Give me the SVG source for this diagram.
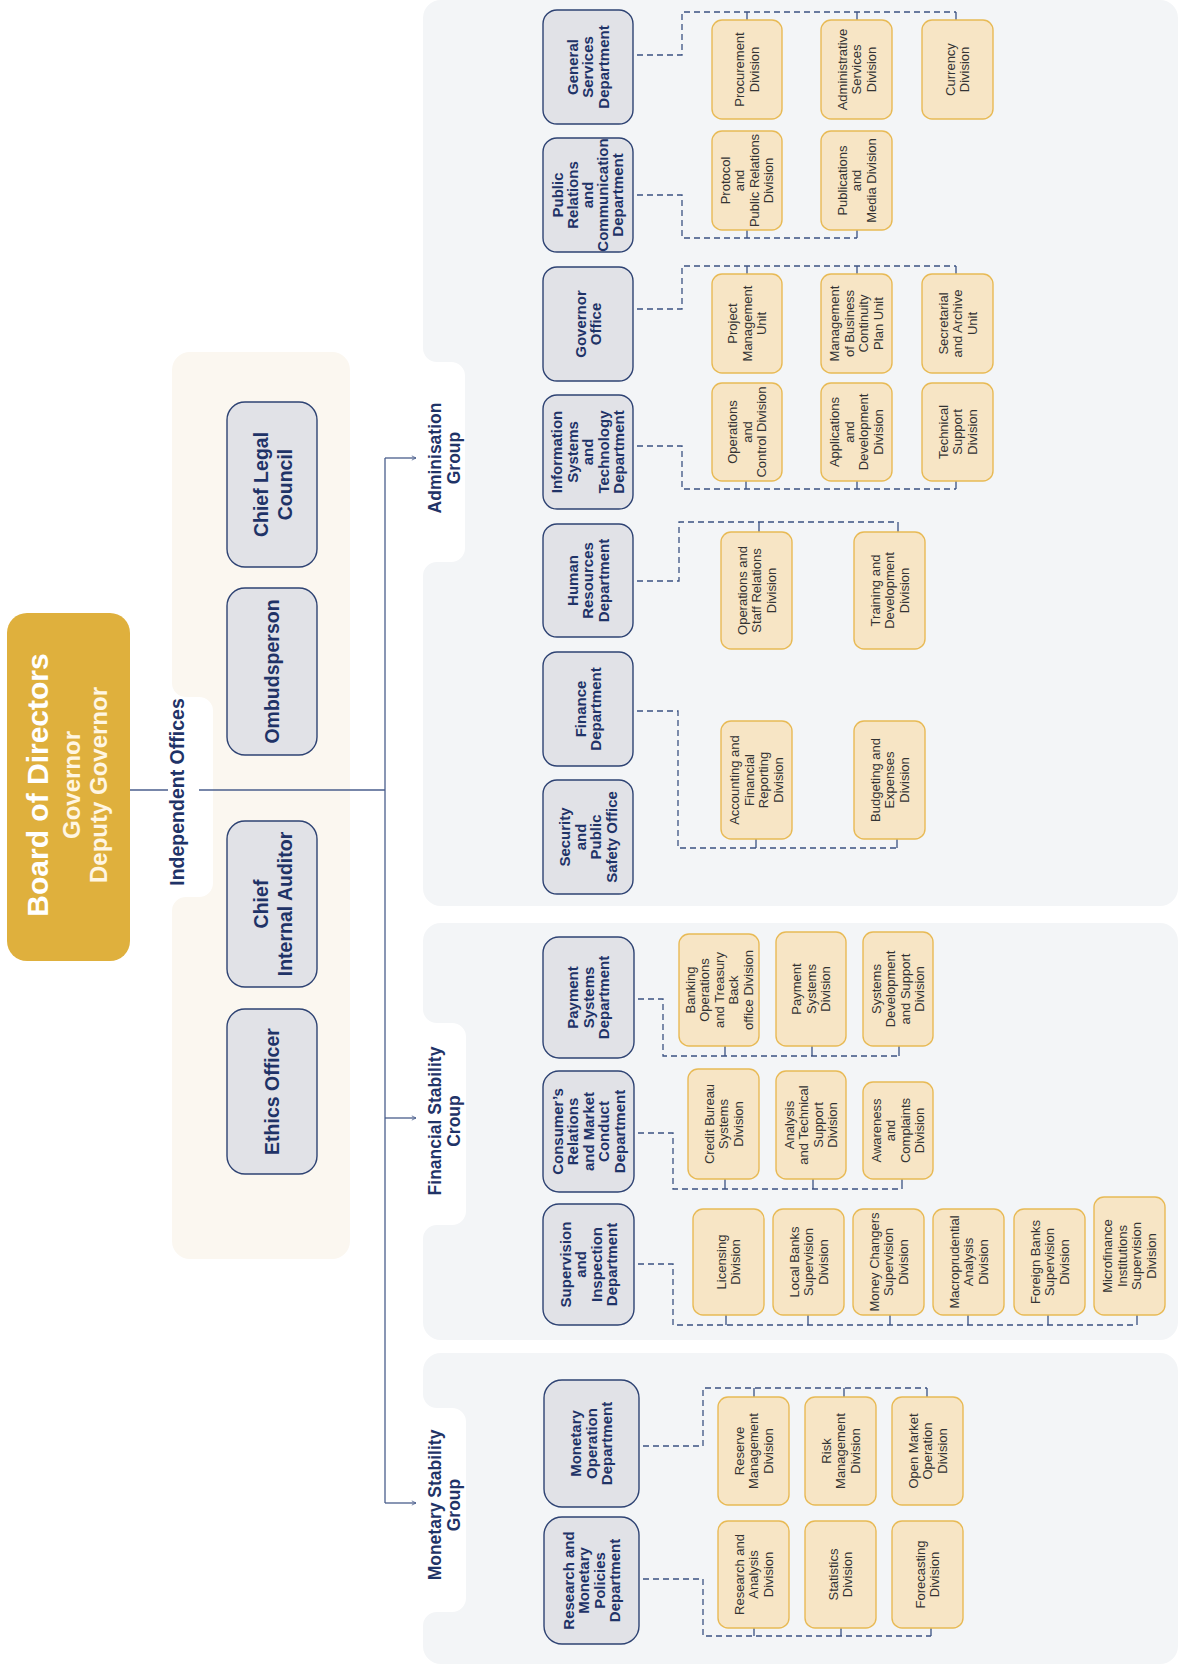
<svg xmlns="http://www.w3.org/2000/svg" width="1181" height="1669" viewBox="0 0 1181 1669">
<style>
text{font-family:"Liberation Sans",Arial,Helvetica,sans-serif}
.dn{fill:#E1E2E7;stroke:#2E4373;stroke-width:1.4}
.dt{font-weight:700;font-size:15px;fill:#1F3367;text-anchor:middle}
.vn{fill:#F7E5C5;stroke:#E8BA55;stroke-width:1.4}
.vt{font-size:13px;fill:#333333;text-anchor:middle}
.bus{fill:none;stroke:#3B5283;stroke-width:1.3;stroke-dasharray:6 4}
.tk{fill:none;stroke:#3B5283;stroke-width:1.3}
.ln{fill:none;stroke:#4A5E8C;stroke-width:1.3}
.gl{font-weight:700;font-size:17.5px;fill:#1F3367;text-anchor:middle}
.io{font-weight:700;font-size:19.5px;fill:#1F3367;text-anchor:middle}
.gp{fill:#F3F5F7}
.ip{fill:#FBF7F0}
</style>
<defs>
<marker id="ah" viewBox="0 0 10 10" refX="9" refY="5" markerWidth="6" markerHeight="6" orient="auto" markerUnits="userSpaceOnUse"><path d="M2 1.5 L9 5 L2 8.5" fill="none" stroke="#4A5E8C" stroke-width="1.3"/></marker>
</defs>
<rect width="1181" height="1669" fill="#FFFFFF"/>

<g id="panels">
<path class="ip" d="M190 352 H332 A18 18 0 0 1 350 370 V1241 A18 18 0 0 1 332 1259 H190 A18 18 0 0 1 172 1241 V911 A14 14 0 0 1 186 897 H199 A14 14 0 0 0 213 883 V711 A14 14 0 0 0 199 697 H186 A14 14 0 0 1 172 683 V370 A18 18 0 0 1 190 352 Z"/>
<path class="gp" d="M441 0 H1160 A18 18 0 0 1 1178 18 V888 A18 18 0 0 1 1160 906 H441 A18 18 0 0 1 423 888 V576 A14 14 0 0 1 437 562 H451 A14 14 0 0 0 465 548 V376 A14 14 0 0 0 451 362 H437 A14 14 0 0 1 423 348 V18 A18 18 0 0 1 441 0 Z"/>
<path class="gp" d="M441 923 H1160 A18 18 0 0 1 1178 941 V1322 A18 18 0 0 1 1160 1340 H441 A18 18 0 0 1 423 1322 V1239 A14 14 0 0 1 437 1225 H452 A14 14 0 0 0 466 1211 V1037 A14 14 0 0 0 452 1023 H437 A14 14 0 0 1 423 1009 V941 A18 18 0 0 1 441 923 Z"/>
<path class="gp" d="M441 1353 H1160 A18 18 0 0 1 1178 1371 V1646 A18 18 0 0 1 1160 1664 H441 A18 18 0 0 1 423 1646 V1626 A14 14 0 0 1 437 1612 H452 A14 14 0 0 0 466 1598 V1422 A14 14 0 0 0 452 1408 H437 A14 14 0 0 1 423 1394 V1371 A18 18 0 0 1 441 1353 Z"/>
</g>

<g id="connectors">
<path class="ln" d="M130 790 H168"/>
<path class="ln" d="M199 790 H385"/>
<path class="ln" d="M385 458 V1503"/>
<path class="ln" d="M385 458 H416" marker-end="url(#ah)"/>
<path class="ln" d="M385 1118 H416" marker-end="url(#ah)"/>
<path class="ln" d="M385 1503 H416" marker-end="url(#ah)"/>

<path class="bus" d="M637 55 H682 V12 H956"/>
<path class="tk" d="M747 12 V20 M857 12 V20 M956 12 V20"/>
<path class="bus" d="M637 195 H682 V238 H857"/>
<path class="tk" d="M747 230 V238 M857 230 V238"/>
<path class="bus" d="M637 309 H682 V266 H956"/>
<path class="tk" d="M747 266 V274 M857 266 V274 M956 266 V274"/>
<path class="bus" d="M637 446 H682 V489 H956"/>
<path class="tk" d="M746 481 V489 M857 481 V489 M956 481 V489"/>
<path class="bus" d="M637 581 H679 V522 H898"/>
<path class="tk" d="M759 522 V532 M898 522 V532"/>
<path class="bus" d="M637 711 H678 V848 H897"/>
<path class="tk" d="M756 839 V848 M897 839 V848"/>

<path class="bus" d="M638 999 H663 V1056 H899"/>
<path class="tk" d="M725 1046 V1056 M812 1046 V1056 M899 1046 V1056"/>
<path class="bus" d="M638 1133 H673 V1189 H902"/>
<path class="tk" d="M725 1179 V1189 M813 1179 V1189 M902 1179 V1189"/>
<path class="bus" d="M638 1264 H673 V1325 H1137"/>
<path class="tk" d="M726 1315 V1325 M808 1315 V1325 M890 1315 V1325 M968 1315 V1325 M1048 1315 V1325 M1137 1315 V1325"/>

<path class="bus" d="M643 1446 H703 V1388 H927"/>
<path class="tk" d="M754 1388 V1397 M844 1388 V1397 M927 1388 V1397"/>
<path class="bus" d="M643 1579 H703 V1636 H931"/>
<path class="tk" d="M754 1628 V1636 M841 1628 V1636 M931 1628 V1636"/>
</g>

<g id="board">
<rect x="7" y="613" width="123" height="348" rx="20" fill="#DFB03D"/>
<text transform="translate(48 785) rotate(-90)" text-anchor="middle" font-weight="700" font-size="30" fill="#FFFFFF">Board of Directors</text>
<text transform="translate(80 785) rotate(-90)" text-anchor="middle" font-weight="700" font-size="24" fill="#FFF6E3">Governor</text>
<text transform="translate(107 785) rotate(-90)" text-anchor="middle" font-weight="700" font-size="24" fill="#FFF6E3">Deputy Governor</text>
</g>

<g id="independent-offices-label"><text class="io" transform="translate(184 792) rotate(-90)">Independent Offices</text></g>
<g id="admin-label"><text class="gl" transform="translate(444 458) rotate(-90)"><tspan x="0" y="-3.4">Adminisation</tspan><tspan x="0" y="15.6">Group</tspan></text></g>
<g id="financial-label"><text class="gl" transform="translate(444 1121) rotate(-90)"><tspan x="0" y="-3.4">Financial Stability</tspan><tspan x="0" y="15.6">Croup</tspan></text></g>
<g id="monetary-label"><text class="gl" transform="translate(444 1505) rotate(-90)"><tspan x="0" y="-3.4">Monetary Stability</tspan><tspan x="0" y="15.6">Group</tspan></text></g>

<g id="chief-legal-council"><rect class="dn" x="227" y="402" width="90" height="165" rx="18"/><text class="io" transform="translate(272 484.5) rotate(-90)"><tspan x="0" y="-4">Chief Legal</tspan><tspan x="0" y="20">Council</tspan></text></g>
<g id="ombudsperson"><rect class="dn" x="227" y="588" width="90" height="167" rx="18"/><text class="io" transform="translate(272 671.5) rotate(-90)"><tspan x="0" y="7">Ombudsperson</tspan></text></g>
<g id="chief-internal-auditor"><rect class="dn" x="227" y="821" width="90" height="166" rx="18"/><text class="io" transform="translate(272 904) rotate(-90)"><tspan x="0" y="-4">Chief</tspan><tspan x="0" y="20">Internal Auditor</tspan></text></g>
<g id="ethics-officer"><rect class="dn" x="227" y="1009" width="90" height="165" rx="18"/><text class="io" transform="translate(272 1091.5) rotate(-90)"><tspan x="0" y="7">Ethics Officer</tspan></text></g>

<g id="general-services"><rect class="dn" x="543" y="10" width="90" height="114" rx="14"/><text class="dt" transform="translate(588 67) rotate(-90)"><tspan x="0" y="-10.25">General</tspan><tspan x="0" y="5.25">Services</tspan><tspan x="0" y="20.75">Department</tspan></text></g>
<g id="public-relations"><rect class="dn" x="543" y="138" width="90" height="114" rx="14"/><text class="dt" font-size="13.5" transform="translate(588 195) rotate(-90)"><tspan x="0" y="-25.3">Public</tspan><tspan x="0" y="-10.3">Relations</tspan><tspan x="0" y="4.7">and</tspan><tspan x="0" y="19.7">Communication</tspan><tspan x="0" y="34.7">Department</tspan></text></g>
<g id="governor-office"><rect class="dn" x="543" y="267" width="90" height="114" rx="14"/><text class="dt" transform="translate(588 324) rotate(-90)"><tspan x="0" y="-2.5">Governor</tspan><tspan x="0" y="13">Office</tspan></text></g>
<g id="information-systems"><rect class="dn" x="543" y="395" width="90" height="114" rx="14"/><text class="dt" transform="translate(588 452) rotate(-90)"><tspan x="0" y="-25.75">Information</tspan><tspan x="0" y="-10.25">Systems</tspan><tspan x="0" y="5.25">and</tspan><tspan x="0" y="20.75">Technology</tspan><tspan x="0" y="36.25">Department</tspan></text></g>
<g id="human-resources"><rect class="dn" x="543" y="524" width="90" height="113" rx="14"/><text class="dt" transform="translate(588 580.5) rotate(-90)"><tspan x="0" y="-10.25">Human</tspan><tspan x="0" y="5.25">Resources</tspan><tspan x="0" y="20.75">Department</tspan></text></g>
<g id="finance"><rect class="dn" x="543" y="652" width="90" height="114" rx="14"/><text class="dt" transform="translate(588 709) rotate(-90)"><tspan x="0" y="-2.5">Finance</tspan><tspan x="0" y="13">Department</tspan></text></g>
<g id="security"><rect class="dn" x="543" y="780" width="90" height="114" rx="14"/><text class="dt" transform="translate(588 837) rotate(-90)"><tspan x="0" y="-18">Security</tspan><tspan x="0" y="-2.5">and</tspan><tspan x="0" y="13">Public</tspan><tspan x="0" y="28.5">Safety Office</tspan></text></g>

<g id="payment-systems"><rect class="dn" x="543" y="937" width="91" height="121" rx="16"/><text class="dt" transform="translate(588.5 997.5) rotate(-90)"><tspan x="0" y="-10.25">Payment</tspan><tspan x="0" y="5.25">Systems</tspan><tspan x="0" y="20.75">Department</tspan></text></g>
<g id="consumers-relations"><rect class="dn" x="543" y="1071" width="91" height="121" rx="16"/><text class="dt" transform="translate(588.5 1131.5) rotate(-90)"><tspan x="0" y="-25.75">Consumer’s</tspan><tspan x="0" y="-10.25">Relations</tspan><tspan x="0" y="5.25">and Market</tspan><tspan x="0" y="20.75">Conduct</tspan><tspan x="0" y="36.25">Department</tspan></text></g>
<g id="supervision"><rect class="dn" x="543" y="1204" width="91" height="121" rx="16"/><text class="dt" transform="translate(588.5 1264.5) rotate(-90)"><tspan x="0" y="-18">Supervision</tspan><tspan x="0" y="-2.5">and</tspan><tspan x="0" y="13">Inspection</tspan><tspan x="0" y="28.5">Department</tspan></text></g>

<g id="monetary-operation"><rect class="dn" x="544" y="1380" width="95" height="127" rx="18"/><text class="dt" transform="translate(591.5 1443.5) rotate(-90)"><tspan x="0" y="-10.25">Monetary</tspan><tspan x="0" y="5.25">Operation</tspan><tspan x="0" y="20.75">Department</tspan></text></g>
<g id="research-monetary"><rect class="dn" x="544" y="1517" width="95" height="127" rx="18"/><text class="dt" transform="translate(591.5 1580.5) rotate(-90)"><tspan x="0" y="-18">Research and</tspan><tspan x="0" y="-2.5">Monetary</tspan><tspan x="0" y="13">Policies</tspan><tspan x="0" y="28.5">Department</tspan></text></g>

<g id="procurement"><rect class="vn" x="712" y="20" width="70" height="99" rx="10"/><text class="vt" transform="translate(747 69.5) rotate(-90)"><tspan x="0" y="-2.7">Procurement</tspan><tspan x="0" y="11.8">Division</tspan></text></g>
<g id="administrative-services"><rect class="vn" x="821" y="20" width="71" height="99" rx="10"/><text class="vt" transform="translate(856.5 69.5) rotate(-90)"><tspan x="0" y="-9.95">Administrative</tspan><tspan x="0" y="4.55">Services</tspan><tspan x="0" y="19.05">Division</tspan></text></g>
<g id="currency"><rect class="vn" x="922" y="20" width="71" height="99" rx="10"/><text class="vt" transform="translate(957.5 69.5) rotate(-90)"><tspan x="0" y="-2.7">Currency</tspan><tspan x="0" y="11.8">Division</tspan></text></g>

<g id="protocol"><rect class="vn" x="712" y="131" width="70" height="99" rx="10"/><text class="vt" font-size="12.5" transform="translate(747 180.5) rotate(-90)"><tspan x="0" y="-17.2">Protocol</tspan><tspan x="0" y="-2.7">and</tspan><tspan x="0" y="11.8">Public Relations</tspan><tspan x="0" y="26.3">Division</tspan></text></g>
<g id="publications"><rect class="vn" x="821" y="131" width="71" height="99" rx="10"/><text class="vt" transform="translate(856.5 180.5) rotate(-90)"><tspan x="0" y="-9.95">Publications</tspan><tspan x="0" y="4.55">and</tspan><tspan x="0" y="19.05">Media Division</tspan></text></g>

<g id="project-management"><rect class="vn" x="712" y="274" width="70" height="99" rx="10"/><text class="vt" transform="translate(747 323.5) rotate(-90)"><tspan x="0" y="-9.95">Project</tspan><tspan x="0" y="4.55">Management</tspan><tspan x="0" y="19.05">Unit</tspan></text></g>
<g id="business-continuity"><rect class="vn" x="821" y="274" width="71" height="99" rx="10"/><text class="vt" transform="translate(856.5 323.5) rotate(-90)"><tspan x="0" y="-17.2">Management</tspan><tspan x="0" y="-2.7">of Business</tspan><tspan x="0" y="11.8">Continuity</tspan><tspan x="0" y="26.3">Plan Unit</tspan></text></g>
<g id="secretarial"><rect class="vn" x="922" y="274" width="71" height="99" rx="10"/><text class="vt" transform="translate(957.5 323.5) rotate(-90)"><tspan x="0" y="-9.95">Secretarial</tspan><tspan x="0" y="4.55">and Archive</tspan><tspan x="0" y="19.05">Unit</tspan></text></g>

<g id="operations-control"><rect class="vn" x="712" y="383" width="70" height="98" rx="10"/><text class="vt" transform="translate(747 432) rotate(-90)"><tspan x="0" y="-9.95">Operations</tspan><tspan x="0" y="4.55">and</tspan><tspan x="0" y="19.05">Control Division</tspan></text></g>
<g id="applications"><rect class="vn" x="821" y="383" width="71" height="98" rx="10"/><text class="vt" transform="translate(856.5 432) rotate(-90)"><tspan x="0" y="-17.2">Applications</tspan><tspan x="0" y="-2.7">and</tspan><tspan x="0" y="11.8">Development</tspan><tspan x="0" y="26.3">Division</tspan></text></g>
<g id="technical-support"><rect class="vn" x="922" y="383" width="71" height="98" rx="10"/><text class="vt" transform="translate(957.5 432) rotate(-90)"><tspan x="0" y="-9.95">Technical</tspan><tspan x="0" y="4.55">Support</tspan><tspan x="0" y="19.05">Division</tspan></text></g>

<g id="operations-staff"><rect class="vn" x="721" y="532" width="71" height="117" rx="10"/><text class="vt" transform="translate(756.5 590.5) rotate(-90)"><tspan x="0" y="-9.95">Operations and</tspan><tspan x="0" y="4.55">Staff Relations</tspan><tspan x="0" y="19.05">Division</tspan></text></g>
<g id="training"><rect class="vn" x="854" y="532" width="71" height="117" rx="10"/><text class="vt" transform="translate(889.5 590.5) rotate(-90)"><tspan x="0" y="-9.95">Training and</tspan><tspan x="0" y="4.55">Development</tspan><tspan x="0" y="19.05">Division</tspan></text></g>

<g id="accounting"><rect class="vn" x="721" y="721" width="71" height="118" rx="10"/><text class="vt" transform="translate(756.5 780) rotate(-90)"><tspan x="0" y="-17.2">Accounting and</tspan><tspan x="0" y="-2.7">Financial</tspan><tspan x="0" y="11.8">Reporting</tspan><tspan x="0" y="26.3">Division</tspan></text></g>
<g id="budgeting"><rect class="vn" x="854" y="721" width="71" height="118" rx="10"/><text class="vt" transform="translate(889.5 780) rotate(-90)"><tspan x="0" y="-9.95">Budgeting and</tspan><tspan x="0" y="4.55">Expenses</tspan><tspan x="0" y="19.05">Division</tspan></text></g>

<g id="banking-operations"><rect class="vn" x="679" y="934" width="80" height="112" rx="10"/><text class="vt" transform="translate(719 990) rotate(-90)"><tspan x="0" y="-24.45">Banking</tspan><tspan x="0" y="-9.95">Operations</tspan><tspan x="0" y="4.55">and Treasury</tspan><tspan x="0" y="19.05">Back</tspan><tspan x="0" y="33.55">office Division</tspan></text></g>
<g id="payment-systems-division"><rect class="vn" x="776" y="932" width="70" height="114" rx="10"/><text class="vt" transform="translate(811 989) rotate(-90)"><tspan x="0" y="-9.95">Payment</tspan><tspan x="0" y="4.55">Systems</tspan><tspan x="0" y="19.05">Division</tspan></text></g>
<g id="systems-development"><rect class="vn" x="863" y="932" width="70" height="114" rx="10"/><text class="vt" transform="translate(898 989) rotate(-90)"><tspan x="0" y="-17.2">Systems</tspan><tspan x="0" y="-2.7">Development</tspan><tspan x="0" y="11.8">and Support</tspan><tspan x="0" y="26.3">Division</tspan></text></g>

<g id="credit-bureau"><rect class="vn" x="688" y="1069" width="71" height="110" rx="10"/><text class="vt" transform="translate(723.5 1124) rotate(-90)"><tspan x="0" y="-9.95">Credit Bureau</tspan><tspan x="0" y="4.55">Systems</tspan><tspan x="0" y="19.05">Division</tspan></text></g>
<g id="analysis-technical"><rect class="vn" x="776" y="1071" width="70" height="108" rx="10"/><text class="vt" transform="translate(811 1125) rotate(-90)"><tspan x="0" y="-17.2">Analysis</tspan><tspan x="0" y="-2.7">and Technical</tspan><tspan x="0" y="11.8">Support</tspan><tspan x="0" y="26.3">Division</tspan></text></g>
<g id="awareness"><rect class="vn" x="863" y="1082" width="70" height="97" rx="10"/><text class="vt" transform="translate(898 1130.5) rotate(-90)"><tspan x="0" y="-17.2">Awareness</tspan><tspan x="0" y="-2.7">and</tspan><tspan x="0" y="11.8">Complaints</tspan><tspan x="0" y="26.3">Division</tspan></text></g>

<g id="licensing"><rect class="vn" x="693" y="1209" width="71" height="106" rx="10"/><text class="vt" transform="translate(728.5 1262) rotate(-90)"><tspan x="0" y="-2.7">Licensing</tspan><tspan x="0" y="11.8">Division</tspan></text></g>
<g id="local-banks"><rect class="vn" x="773" y="1209" width="71" height="106" rx="10"/><text class="vt" transform="translate(808.5 1262) rotate(-90)"><tspan x="0" y="-9.95">Local Banks</tspan><tspan x="0" y="4.55">Supervision</tspan><tspan x="0" y="19.05">Division</tspan></text></g>
<g id="money-changers"><rect class="vn" x="853" y="1209" width="71" height="106" rx="10"/><text class="vt" font-size="12.5" transform="translate(888.5 1262) rotate(-90)"><tspan x="0" y="-9.95">Money Changers</tspan><tspan x="0" y="4.55">Supervision</tspan><tspan x="0" y="19.05">Division</tspan></text></g>
<g id="macroprudential"><rect class="vn" x="933" y="1209" width="71" height="106" rx="10"/><text class="vt" transform="translate(968.5 1262) rotate(-90)"><tspan x="0" y="-9.95">Macroprudential</tspan><tspan x="0" y="4.55">Analysis</tspan><tspan x="0" y="19.05">Division</tspan></text></g>
<g id="foreign-banks"><rect class="vn" x="1014" y="1209" width="71" height="106" rx="10"/><text class="vt" transform="translate(1049.5 1262) rotate(-90)"><tspan x="0" y="-9.95">Foreign Banks</tspan><tspan x="0" y="4.55">Supervision</tspan><tspan x="0" y="19.05">Division</tspan></text></g>
<g id="microfinance"><rect class="vn" x="1094" y="1197" width="71" height="118" rx="10"/><text class="vt" transform="translate(1129.5 1256) rotate(-90)"><tspan x="0" y="-17.2">Microfinance</tspan><tspan x="0" y="-2.7">Institutions</tspan><tspan x="0" y="11.8">Supervision</tspan><tspan x="0" y="26.3">Division</tspan></text></g>

<g id="reserve-management"><rect class="vn" x="718" y="1397" width="71" height="108" rx="10"/><text class="vt" transform="translate(753.5 1451) rotate(-90)"><tspan x="0" y="-9.95">Reserve</tspan><tspan x="0" y="4.55">Management</tspan><tspan x="0" y="19.05">Division</tspan></text></g>
<g id="risk-management"><rect class="vn" x="805" y="1397" width="71" height="108" rx="10"/><text class="vt" transform="translate(840.5 1451) rotate(-90)"><tspan x="0" y="-9.95">Risk</tspan><tspan x="0" y="4.55">Management</tspan><tspan x="0" y="19.05">Division</tspan></text></g>
<g id="open-market"><rect class="vn" x="892" y="1397" width="71" height="108" rx="10"/><text class="vt" transform="translate(927.5 1451) rotate(-90)"><tspan x="0" y="-9.95">Open Market</tspan><tspan x="0" y="4.55">Operation</tspan><tspan x="0" y="19.05">Division</tspan></text></g>
<g id="research-analysis"><rect class="vn" x="718" y="1521" width="71" height="107" rx="10"/><text class="vt" transform="translate(753.5 1574.5) rotate(-90)"><tspan x="0" y="-9.95">Research and</tspan><tspan x="0" y="4.55">Analysis</tspan><tspan x="0" y="19.05">Division</tspan></text></g>
<g id="statistics"><rect class="vn" x="805" y="1521" width="71" height="107" rx="10"/><text class="vt" transform="translate(840.5 1574.5) rotate(-90)"><tspan x="0" y="-2.7">Statistics</tspan><tspan x="0" y="11.8">Division</tspan></text></g>
<g id="forecasting"><rect class="vn" x="892" y="1521" width="71" height="107" rx="10"/><text class="vt" transform="translate(927.5 1574.5) rotate(-90)"><tspan x="0" y="-2.7">Forecasting</tspan><tspan x="0" y="11.8">Division</tspan></text></g>
</svg>
